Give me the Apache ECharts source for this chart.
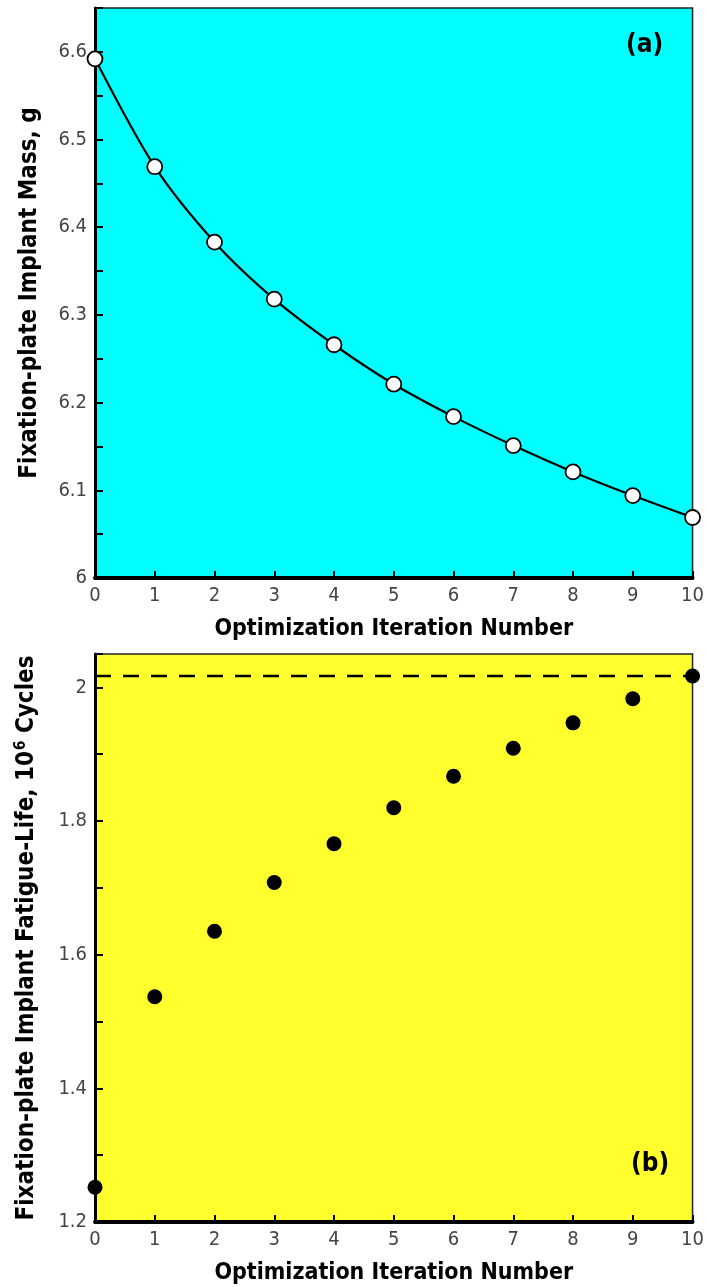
<!DOCTYPE html>
<html>
<head>
<meta charset="utf-8">
<script src="https://cdn.jsdelivr.net/npm/echarts@6/dist/echarts.min.js"></script>
<style>
  html, body { margin: 0; padding: 0; background: #ffffff; }
  #chart { width: 707px; height: 1287px; }
</style>
</head>
<body>
<div id="chart"></div>
<script>
// Optimization iterations 0..10
const iterations = [0, 1, 2, 3, 4, 5, 6, 7, 8, 9, 10];

// (a) implant mass per iteration, g
const implantMass = [6.592, 6.469, 6.383, 6.318, 6.266, 6.221, 6.184, 6.151, 6.121, 6.094, 6.069];

// (b) fatigue life per iteration, 10^6 cycles
const fatigueLife = [1.252, 1.537, 1.635, 1.708, 1.766, 1.820, 1.867, 1.909, 1.947, 1.983, 2.017];

// target fatigue life shown as the dashed reference line
const targetLife = 2.017;

const FONT = "'Liberation Sans Narrow', 'Arial Narrow', 'DejaVu Sans Condensed', sans-serif";

const chart = echarts.init(document.getElementById('chart'), null, { renderer: 'canvas' });

function xAxisFor(gridIndex) {
  return {
    type: 'value', gridIndex: gridIndex, min: 0, max: 10, interval: 1,
    name: 'Optimization Iteration Number',
    nameLocation: 'middle', nameGap: 40,
    nameTextStyle: { fontFamily: FONT, fontSize: 23, fontWeight: 'bold', color: '#000' },
    axisLine: { show: true, onZero: false, lineStyle: { color: '#000', width: 4 } },
    axisTick: { show: true, inside: true, length: 7, lineStyle: { color: '#000', width: 2 } },
    axisLabel: { fontFamily: FONT, fontSize: 20, color: '#444', margin: 8 },
    splitLine: { show: false }
  };
}

const option = {
  animation: false,
  backgroundColor: '#ffffff',
  grid: [
    { left: 95, top: 8, width: 598, height: 570, show: true,
      backgroundColor: '#00ffff', borderColor: '#222', borderWidth: 1.5 },
    { left: 95, top: 654, width: 598, height: 568, show: true,
      backgroundColor: '#ffff2e', borderColor: '#222', borderWidth: 1.5 }
  ],
  xAxis: [xAxisFor(0), xAxisFor(1)],
  yAxis: [
    {
      type: 'value', gridIndex: 0, min: 6, max: 6.65, interval: 0.05,
      name: 'Fixation-plate Implant Mass, g',
      nameLocation: 'middle', nameGap: 53, nameRotate: 90,
      nameTextStyle: { fontFamily: FONT, fontSize: 24, fontWeight: 'bold', color: '#000' },
      axisLine: { show: true, onZero: false, lineStyle: { color: '#000', width: 3 } },
      axisTick: { show: true, inside: true, length: 8, lineStyle: { color: '#000', width: 2 } },
      axisLabel: {
        fontFamily: FONT, fontSize: 20, color: '#444', margin: 8,
        formatter: function (v) {
          const k = Math.round(v * 100);
          if (k % 10 !== 0 || k > 660) return '';
          return String(k / 100);
        }
      },
      splitLine: { show: false }
    },
    {
      type: 'value', gridIndex: 1, min: 1.2, max: 2.05, interval: 0.1,
      name: '{t|Fixation-plate Implant Fatigue-Life, 10}{s|6}{t| Cycles}',
      nameLocation: 'middle', nameGap: 54, nameRotate: 90,
      nameTextStyle: {
        fontFamily: FONT, fontSize: 24, fontWeight: 'bold', color: '#000',
        rich: {
          t: { fontFamily: FONT, fontSize: 24, fontWeight: 'bold', color: '#000', lineHeight: 28 },
          s: { fontFamily: FONT, fontSize: 15, fontWeight: 'bold', color: '#000', padding: [0, 0, 12, 1] }
        }
      },
      axisLine: { show: true, onZero: false, lineStyle: { color: '#000', width: 3 } },
      axisTick: { show: true, inside: true, length: 8, lineStyle: { color: '#000', width: 2 } },
      axisLabel: {
        fontFamily: FONT, fontSize: 20, color: '#444', margin: 8,
        formatter: function (v) {
          const k = Math.round(v * 10);
          if (k % 2 !== 0 || Math.abs(v * 10 - k) > 1e-6 || k > 20) return '';
          return String(k / 10);
        }
      },
      splitLine: { show: false }
    }
  ],
  series: [
    {
      type: 'line', xAxisIndex: 0, yAxisIndex: 0,
      data: iterations.map((x, i) => [x, implantMass[i]]),
      smooth: 0.3, clip: false,
      symbol: 'circle', symbolSize: 15,
      lineStyle: { color: '#000', width: 2.2 },
      itemStyle: { color: '#ffffff', borderColor: '#000', borderWidth: 1.8, opacity: 1 },
      z: 5
    },
    {
      type: 'line', xAxisIndex: 1, yAxisIndex: 1,
      data: [[iterations[0], targetLife], [iterations[iterations.length - 1], targetLife]],
      symbol: 'none', clip: false,
      lineStyle: { color: '#000', width: 2.5, type: [16, 12] },
      z: 3
    },
    {
      type: 'scatter', xAxisIndex: 1, yAxisIndex: 1,
      data: iterations.map((x, i) => [x, fatigueLife[i]]),
      symbol: 'circle', symbolSize: 15, clip: false,
      itemStyle: { color: '#000', opacity: 1 },
      z: 5
    }
  ],
  graphic: [
    { type: 'text', left: 626, top: 32,
      style: { text: '(a)', fontFamily: FONT, fontSize: 26, fontWeight: 'bold', fill: '#000' } },
    { type: 'text', left: 631, top: 1151,
      style: { text: '(b)', fontFamily: FONT, fontSize: 26, fontWeight: 'bold', fill: '#000' } }
  ]
};

chart.setOption(option);
</script>
</body>
</html>
